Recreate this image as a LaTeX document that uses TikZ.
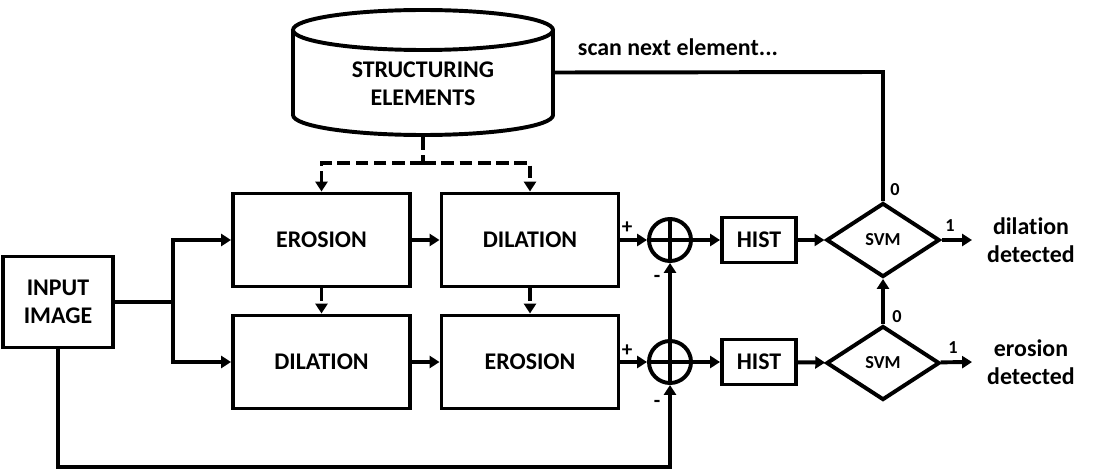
\documentclass[tikz,border=0pt]{standalone}
\usepackage{fontspec}
\setmainfont{Carlito}[Ligatures={NoCommon,NoRequired,NoContextual}]
\usetikzlibrary{arrows.meta,shapes.geometric}

\begin{document}
\begin{tikzpicture}[x=0.025cm,y=-0.025cm,line width=2.8pt,
    >={Triangle[length=7pt,width=8.5pt]},
    block/.style={draw,rectangle,inner sep=0pt,align=center,
      font=\fontsize{17}{20}\selectfont\bfseries},
    hist/.style={block,minimum width=1.85cm,minimum height=1.125cm},
    op/.style={block,minimum width=4.425cm,minimum height=2.325cm},
    svm/.style={draw,diamond,inner sep=0pt,minimum width=2.83cm,minimum height=1.85cm,
      font=\fontsize{13}{15}\selectfont\bfseries},
    sum/.style={draw,circle,inner sep=0pt,minimum size=1.05cm},
    lbl/.style={inner sep=0pt,font=\fontsize{13}{15}\selectfont\bfseries},
    sign/.style={inner sep=0pt,font=\fontsize{15}{17}\selectfont\bfseries},
    txt/.style={inner sep=0pt,align=center,font=\fontsize{17}{20}\selectfont\bfseries},
    dash line/.style={dash pattern=on 9pt off 4pt}]
  \useasboundingbox (0,0) rectangle (1118,473);

  \node[rectangle,inner sep=0pt,minimum width=6.5cm,minimum height=3.125cm] (se) at (423,72.5) {};
  \draw (293,30) -- (293,115) arc[start angle=180,end angle=360,x radius=130,y radius=-20]
    -- (553,30);
  \draw (423,30) ellipse[x radius=130,y radius=20];
  \node[txt] (setext) at (423,84) {STRUCTURING\\ELEMENTS};

  \node[block,minimum width=2.75cm,minimum height=2.275cm] (in) at (58,302) {INPUT\\IMAGE};
  \node[op] (ero1) at (321.5,240) {EROSION};
  \node[op] (dil1) at (530,240) {DILATION};
  \node[op] (dil2) at (321.5,362) {DILATION};
  \node[op] (ero2) at (530,362) {EROSION};
  \node[sum] (s1) at (670,240) {};
  \node[sum] (s2) at (670,362) {};
  \node[hist] (h1) at (759,240) {HIST};
  \node[hist] (h2) at (759,362) {HIST};
  \node[svm] (v1) at (883,240) {SVM};
  \node[svm] (v2) at (883,363) {SVM};
  \node[txt] (dd) at (1031,240) {dilation\\detected};
  \node[txt] (ed) at (1031,362) {erosion\\detected};
  \node[txt] (scan) at (678,47) {scan next element...};

  \draw (s1.north) -- (s1.south) (s1.west) -- (s1.east);
  \draw (s2.north) -- (s2.south) (s2.west) -- (s2.east);

  \coordinate (fork) at (173,302);
  \coordinate (low) at (58,467);
  \coordinate (br) at (423,163);
  \coordinate (top) at (883,72);
  \coordinate (o1) at (972,240);
  \coordinate (o2) at (972,362);

  \begin{scope}[dash line]
    \draw (se.south) -- (br);
    \draw[->] (br) -| (ero1);
    \draw[->] (br) -| (dil1);
    \draw[->] (ero1) -- (dil2);
    \draw[->] (dil1) -- (ero2);
  \end{scope}

  \begin{scope}[->]
    \draw[-] (in) -- (fork);
    \draw (fork) |- (ero1);
    \draw (fork) |- (dil2);
    \draw (in) -- (low) -| (s2);
    \draw (ero1) -- (dil1);
    \draw (dil2) -- (ero2);
    \draw (dil1) -- (s1);
    \draw (ero2) -- (s2);
    \draw (s2) -- (s1);
    \draw (s1) -- (h1);
    \draw (s2) -- (h2);
    \draw (h1) -- (v1);
    \draw (h2) -- (v2);
    \draw (v1) -- (o1);
    \draw (v2) -- (o2);
    \draw (v2) -- (v1);
    \draw[-] (v1) -- (top) -- (se.east);
  \end{scope}

  \node[sign] (p1) at (627,228) {+};
  \node[sign] (m1) at (657,279) {-};
  \node[sign] (p2) at (627,351) {+};
  \node[sign] (m2) at (657,404) {-};
  \node[lbl] (z1) at (895,190) {0};
  \node[lbl] (z2) at (897,317) {0};
  \node[lbl] (one1) at (950,226) {1};
  \node[lbl] (one2) at (953,348) {1};
\end{tikzpicture}
\end{document}
